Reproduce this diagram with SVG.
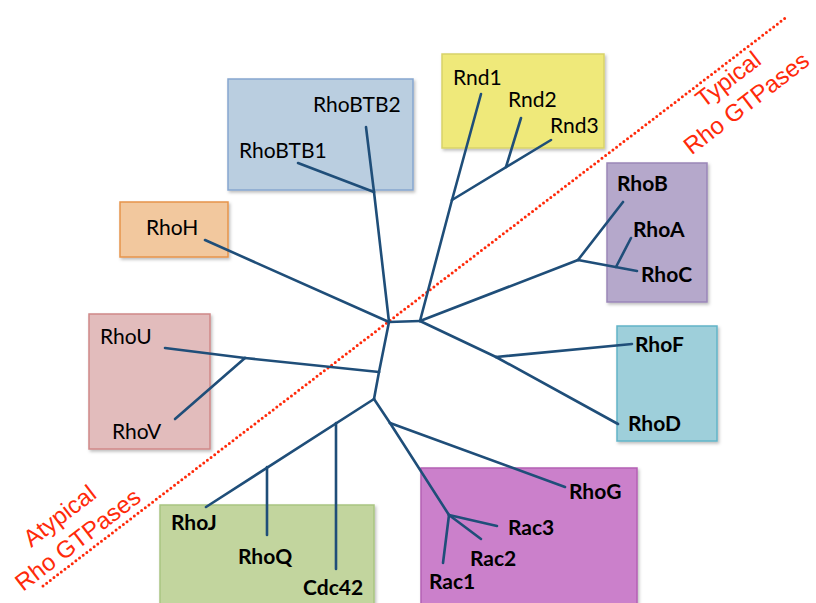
<svg xmlns="http://www.w3.org/2000/svg" width="816" height="603" viewBox="0 0 816 603">
<defs>
<filter id="sh" x="-10%" y="-10%" width="130%" height="130%">
<feDropShadow dx="1.5" dy="2" stdDeviation="1.5" flood-color="#000" flood-opacity="0.25"/>
</filter>
<style>
.box{stroke-width:1.5;filter:url(#sh)}
.lbl{font-family:Lato,"Open Sans","Liberation Sans",sans-serif;font-size:21px;fill:#000}
.b{font-weight:bold}
.tree line{stroke:#1f4e79;stroke-width:2.6;fill:none;stroke-linecap:round;stroke-linejoin:round}
.red{font-family:"Liberation Sans",Arial,sans-serif;font-size:24px;fill:#ff2a0a;text-anchor:middle}
</style>
</defs>
<rect width="816" height="603" fill="#fff"/>

<!-- boxes -->
<g id="boxes">
<rect class="box" x="228" y="79" width="185" height="111" fill="#bacee0" stroke="#86a6cf"/>
<rect class="box" x="442" y="54" width="162" height="94" fill="#efe97a" stroke="#d8d26a"/>
<rect class="box" x="607" y="163" width="100" height="139" fill="#b5a8cb" stroke="#9a86b8"/>
<rect class="box" x="617" y="326" width="100" height="115" fill="#9ecfda" stroke="#62b4c7"/>
<rect class="box" x="120" y="202" width="108" height="55" fill="#f2c89e" stroke="#e6944a"/>
<rect class="box" x="89" y="314" width="121" height="135" fill="#e2bcbc" stroke="#d08888"/>
<rect class="box" x="160" y="505" width="214" height="110" fill="#c2d59e" stroke="#a9c581"/>
<rect class="box" x="421" y="468" width="216" height="147" fill="#cb80cb" stroke="#b45fb4"/>
</g>

<!-- divider -->
<g id="divider">
<line x1="43" y1="586" x2="788" y2="16" stroke="#ff2a0a" stroke-width="3" stroke-dasharray="0 4.6" stroke-linecap="round"/>
<text class="red" transform="translate(68.5,527.5) rotate(-37.5)"><tspan x="0" y="-6.5">Atypical</tspan><tspan x="0" y="23.5">Rho GTPases</tspan></text>
<text class="red" transform="translate(737,91) rotate(-37.5)"><tspan x="0" y="-6.5">Typical</tspan><tspan x="0" y="23.5">Rho GTPases</tspan></text>
</g>

<!-- connectors -->
<g id="connectors" class="tree">
<line x1="389" y1="322" x2="420" y2="321"/>
<line x1="420" y1="321" x2="452" y2="200"/>
<line x1="452" y1="200" x2="481" y2="94"/>
<line x1="452" y1="200" x2="551" y2="140"/>
<line x1="506" y1="167" x2="521" y2="118"/>
<line x1="420" y1="321" x2="578" y2="260"/>
<line x1="578" y1="260" x2="623" y2="202"/>
<line x1="578" y1="260" x2="637" y2="271"/>
<line x1="616" y1="267" x2="631" y2="238"/>
<line x1="420" y1="321" x2="496" y2="357"/>
<line x1="496" y1="357" x2="632" y2="344"/>
<line x1="496" y1="357" x2="618" y2="424"/>
<line x1="389" y1="322" x2="374" y2="192"/>
<line x1="374" y1="192" x2="366" y2="127"/>
<line x1="374" y1="192" x2="298" y2="163"/>
<line x1="389" y1="322" x2="205" y2="240"/>
<line x1="389" y1="322" x2="379" y2="372"/>
<line x1="379" y1="372" x2="374" y2="399"/>
<line x1="379" y1="372" x2="245" y2="358"/>
<line x1="245" y1="358" x2="165" y2="348"/>
<line x1="245" y1="358" x2="175" y2="419"/>
<line x1="374" y1="399" x2="206" y2="507"/>
<line x1="336" y1="423" x2="336" y2="569"/>
<line x1="267" y1="467" x2="267" y2="535"/>
<line x1="374" y1="399" x2="390" y2="423"/>
<line x1="390" y1="423" x2="565" y2="487"/>
<line x1="390" y1="423" x2="449" y2="515"/>
<line x1="449" y1="515" x2="443" y2="563"/>
<line x1="449" y1="515" x2="481" y2="539"/>
<line x1="449" y1="515" x2="497" y2="526"/>
</g>

<!-- labels -->
<g id="n-RhoBTB2"><text class="lbl" x="313" y="112">RhoBTB2</text></g>
<g id="n-RhoBTB1"><text class="lbl" x="239" y="158">RhoBTB1</text></g>
<g id="n-Rnd1"><text class="lbl" x="453" y="85">Rnd1</text></g>
<g id="n-Rnd2"><text class="lbl" x="508" y="107">Rnd2</text></g>
<g id="n-Rnd3"><text class="lbl" x="550" y="133">Rnd3</text></g>
<g id="n-RhoB"><text class="lbl b" x="617" y="191">RhoB</text></g>
<g id="n-RhoA"><text class="lbl b" x="633" y="237">RhoA</text></g>
<g id="n-RhoC"><text class="lbl b" x="641" y="282">RhoC</text></g>
<g id="n-RhoF"><text class="lbl b" x="635" y="352">RhoF</text></g>
<g id="n-RhoD"><text class="lbl b" x="628" y="431">RhoD</text></g>
<g id="n-RhoH"><text class="lbl" x="146" y="235">RhoH</text></g>
<g id="n-RhoU"><text class="lbl" x="100" y="344">RhoU</text></g>
<g id="n-RhoV"><text class="lbl" x="112" y="439">RhoV</text></g>
<g id="n-RhoJ"><text class="lbl b" x="171" y="530">RhoJ</text></g>
<g id="n-RhoQ"><text class="lbl b" x="238" y="564">RhoQ</text></g>
<g id="n-Cdc42"><text class="lbl b" x="303" y="595">Cdc42</text></g>
<g id="n-RhoG"><text class="lbl b" x="569" y="499">RhoG</text></g>
<g id="n-Rac3"><text class="lbl b" x="508" y="535">Rac3</text></g>
<g id="n-Rac2"><text class="lbl b" x="470" y="566">Rac2</text></g>
<g id="n-Rac1"><text class="lbl b" x="429" y="589">Rac1</text></g>
</svg>
